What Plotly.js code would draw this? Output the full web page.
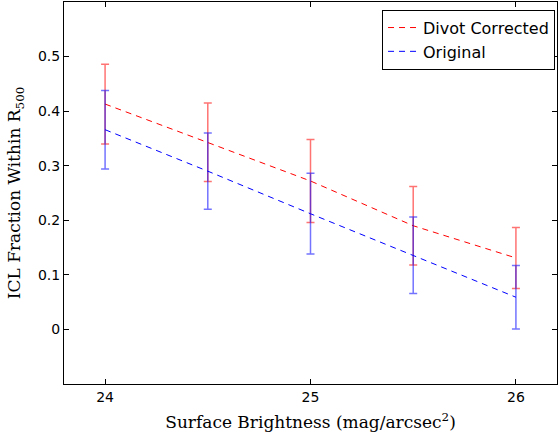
<!DOCTYPE html>
<html>
<head>
<meta charset="utf-8">
<script src="https://cdn.plot.ly/plotly-3.0.1.min.js"></script>
<style>html,body{margin:0;padding:0;background:#fff;}#chart{width:558px;height:438px;}</style>
</head>
<body>
<div id="chart"></div>
<script>
var surfaceBrightness = [24, 24.5, 25, 25.5, 26];
var divotCorrected = [0.413, 0.343, 0.272, 0.190, 0.131];
var divotCorrectedErr = [0.073, 0.072, 0.076, 0.072, 0.056];
var original = [0.366, 0.290, 0.212, 0.136, 0.059];
var originalErr = [0.072, 0.070, 0.074, 0.070, 0.058];
var xTicks = [24, 25, 26];
var yTicks = [0, 0.1, 0.2, 0.3, 0.4, 0.5];
var yTickText = ['0', '0.1', '0.2', '0.3', '0.4', '0.5'];

var traces = [
  {
    x: surfaceBrightness, y: divotCorrected, name: 'Divot Corrected',
    type: 'scatter', mode: 'lines',
    line: {color: 'rgb(255,0,0)', width: 1, dash: '6px,5px'},
    error_y: {type: 'data', array: divotCorrectedErr, visible: true, color: 'rgba(255,0,0,0.55)', thickness: 1.5, width: 4}
  },
  {
    x: surfaceBrightness, y: original, name: 'Original',
    type: 'scatter', mode: 'lines',
    line: {color: 'rgb(0,0,255)', width: 1, dash: '6px,5px'},
    error_y: {type: 'data', array: originalErr, visible: true, color: 'rgba(0,0,255,0.55)', thickness: 1.5, width: 4}
  }
];

var axisCommon = {
  showgrid: false, zeroline: false, showline: true, linecolor: '#000', linewidth: 1,
  mirror: 'ticks', ticks: 'inside', ticklen: 5, tickcolor: '#000', tickwidth: 1,
  tickfont: {family: 'DejaVu Sans', size: 14, color: '#000'}
};

var layout = {
  width: 558, height: 438,
  margin: {l: 64, r: 1, t: 2, b: 54},
  paper_bgcolor: '#fff', plot_bgcolor: '#fff',
  xaxis: Object.assign({}, axisCommon, {
    range: [23.8, 26.2], tickvals: xTicks, ticktext: xTicks.map(String),
    title: {text: 'Surface Brightness (mag/arcsec<sup>2</sup>)', font: {family: 'DejaVu Serif', size: 17, color: '#000'}, standoff: 12}
  }),
  yaxis: Object.assign({}, axisCommon, {
    range: [-0.1, 0.6], tickvals: yTicks, ticktext: yTickText,
    title: {text: 'ICL Fraction Within R<sub>500</sub>', font: {family: 'DejaVu Serif', size: 17, color: '#000'}, standoff: 12}
  }),
  legend: {
    x: 0.996, y: 0.98, xanchor: 'right', yanchor: 'top',
    bordercolor: '#000', borderwidth: 1, bgcolor: '#fff',
    font: {family: 'DejaVu Sans', size: 16, color: '#000'}
  },
  showlegend: true
};

Plotly.newPlot('chart', traces, layout, {displayModeBar: false, staticPlot: true});
</script>
</body>
</html>
